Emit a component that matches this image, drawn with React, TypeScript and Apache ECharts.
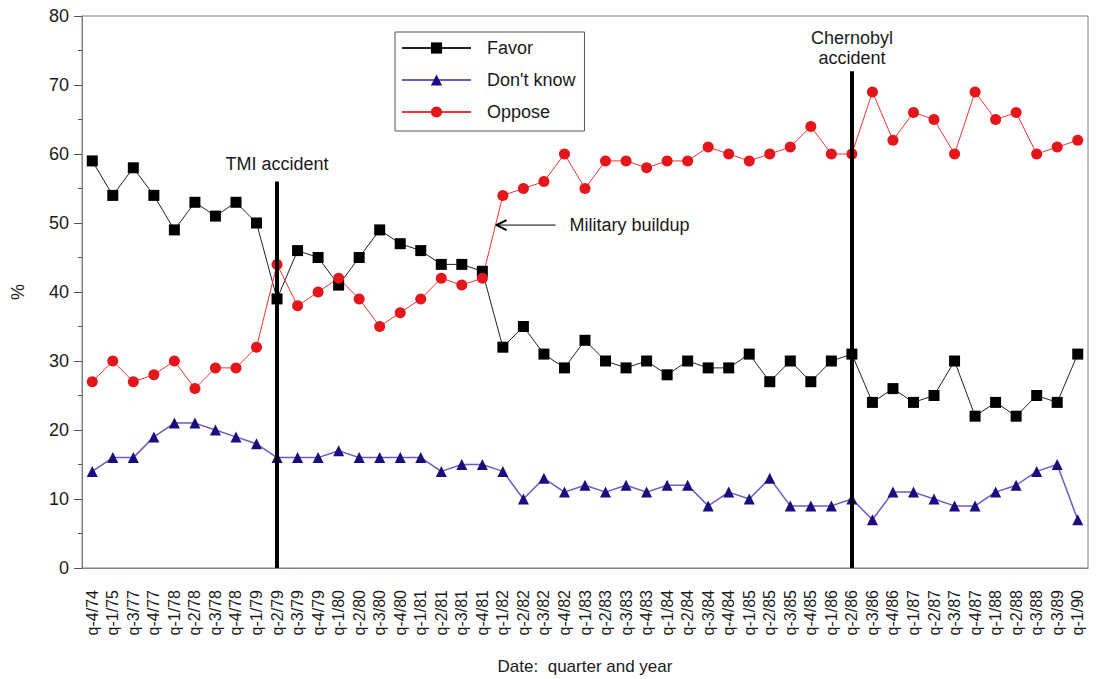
import { useEffect, useRef } from "react";
import * as echarts from "echarts";

const categories = [
  "q-4/74", "q-1/75", "q-3/77", "q-4/77", "q-1/78", "q-2/78", "q-3/78", "q-4/78", "q-1/79", "q-2/79",
  "q-3/79", "q-4/79", "q-1/80", "q-2/80", "q-3/80", "q-4/80", "q-1/81", "q-2/81", "q-3/81", "q-4/81",
  "q-1/82", "q-2/82", "q-3/82", "q-4/82", "q-1/83", "q-2/83", "q-3/83", "q-4/83", "q-1/84", "q-2/84",
  "q-3/84", "q-4/84", "q-1/85", "q-2/85", "q-3/85", "q-4/85", "q-1/86", "q-2/86", "q-3/86", "q-4/86",
  "q-1/87", "q-2/87", "q-3/87", "q-4/87", "q-1/88", "q-2/88", "q-3/88", "q-3/89", "q-1/90",
];

const favor = [
  59, 54, 58, 54, 49, 53, 51, 53, 50, 39,
  46, 45, 41, 45, 49, 47, 46, 44, 44, 43,
  32, 35, 31, 29, 33, 30, 29, 30, 28, 30,
  29, 29, 31, 27, 30, 27, 30, 31, 24, 26,
  24, 25, 30, 22, 24, 22, 25, 24, 31,
];

const dontKnow = [
  14, 16, 16, 19, 21, 21, 20, 19, 18, 16,
  16, 16, 17, 16, 16, 16, 16, 14, 15, 15,
  14, 10, 13, 11, 12, 11, 12, 11, 12, 12,
  9, 11, 10, 13, 9, 9, 9, 10, 7, 11,
  11, 10, 9, 9, 11, 12, 14, 15, 7,
];

const oppose = [
  27, 30, 27, 28, 30, 26, 29, 29, 32, 44,
  38, 40, 42, 39, 35, 37, 39, 42, 41, 42,
  54, 55, 56, 60, 55, 59, 59, 58, 59, 59,
  61, 60, 59, 60, 61, 64, 60, 60, 69, 62,
  66, 65, 60, 69, 65, 66, 60, 61, 62,
];

const events = [
  { at: "q-2/79", top: 56, label: "TMI accident", gap: 8 },
  { at: "q-2/86", top: 72, label: "Chernobyl\naccident", gap: 3 },
];

const arrowNote = { text: "Military buildup", from: "q-4/81", to: "q-1/82", value: 49.7 };

const FONT = "'Liberation Sans', Arial, Helvetica, sans-serif";
const TEXT = "#1a1a1a";

export default function App() {
  const ref = useRef<HTMLDivElement>(null);

  useEffect(() => {
    const chart = echarts.init(ref.current!, null, { renderer: "svg" });
    chart.setOption({
      animation: false,
      textStyle: { fontFamily: FONT },
      grid: {
        left: 82,
        right: 8,
        top: 16,
        bottom: 111,
        containLabel: false,
        outerBoundsMode: "none",
        show: true,
        borderColor: "#808080",
        borderWidth: 1,
        backgroundColor: "#fff",
      },
      legend: {
        data: ["Favor", "Don't know", "Oppose"],
        orient: "vertical",
        left: 395,
        top: 32,
        itemWidth: 69,
        itemHeight: 14,
        itemGap: 14,
        padding: [7, 9, 10, 6],
        borderColor: "#555",
        borderWidth: 1,
        backgroundColor: "#fff",
        selectedMode: false,
        textStyle: { fontSize: 18, color: TEXT, fontFamily: FONT, padding: [0, 0, 0, 11] },
      },
      xAxis: [
        {
          type: "category",
          data: categories,
          boundaryGap: true,
          name: "Date:  quarter and year",
          nameLocation: "middle",
          nameGap: 90,
          nameTextStyle: { fontSize: 17, color: TEXT, fontFamily: FONT },
          axisLine: { lineStyle: { color: "#808080", width: 1 } },
          axisTick: { alignWithLabel: true, length: 6, lineStyle: { color: "#555" } },
          axisLabel: { rotate: 90, interval: 0, fontSize: 16, margin: 22, color: TEXT, fontFamily: FONT },
          splitLine: { show: false },
        },
        {
          type: "category",
          data: categories,
          boundaryGap: true,
          position: "bottom",
          axisLine: { show: false },
          axisTick: { alignWithLabel: false, length: 3, interval: 0, lineStyle: { color: "#555" } },
          axisLabel: { show: false },
          splitLine: { show: false },
        },
      ],
      yAxis: {
        type: "value",
        min: 0,
        max: 80,
        interval: 10,
        name: "%",
        nameLocation: "middle",
        nameGap: 55,
        nameRotate: 90,
        nameTextStyle: { fontSize: 18, color: TEXT, fontFamily: FONT },
        axisLine: { show: true, lineStyle: { color: "#808080", width: 1 } },
        axisTick: { show: true, length: 8, lineStyle: { color: "#555" } },
        minorTick: { show: true, splitNumber: 2, length: 4, lineStyle: { color: "#555" } },
        axisLabel: { fontSize: 18, margin: 13, color: TEXT, fontFamily: FONT },
        splitLine: { show: false },
      },
      series: [
        {
          name: "Favor",
          type: "line",
          xAxisIndex: 0,
          data: favor,
          symbol: "rect",
          symbolSize: 11,
          itemStyle: { color: "#000" },
          lineStyle: { color: "#222", width: 1 },
          emphasis: { disabled: true },
          markLine: {
            silent: true,
            symbol: ["none", "none"],
            lineStyle: { color: "#000", width: 4, type: "solid" },
            label: {
              show: true,
              position: "end",
              formatter: "{b}",
              fontSize: 18,
              lineHeight: 20,
              color: TEXT,
              fontFamily: FONT,
              distance: 8,
            },
            emphasis: { disabled: true },
            data: events.map((e) => [
              { name: e.label, coord: [e.at, 0], label: { distance: e.gap } },
              { coord: [e.at, e.top] },
            ]),
          },
        },
        {
          name: "Don't know",
          type: "line",
          xAxisIndex: 0,
          data: dontKnow,
          symbol: "triangle",
          symbolSize: 11,
          itemStyle: { color: "#1b0d7d" },
          lineStyle: { color: "#6a5cc6", width: 1.5 },
          emphasis: { disabled: true },
        },
        {
          name: "Oppose",
          type: "line",
          xAxisIndex: 0,
          data: oppose,
          symbol: "circle",
          symbolSize: 11,
          itemStyle: { color: "#e3161b" },
          lineStyle: { color: "#ee3530", width: 1 },
          emphasis: { disabled: true },
        },
      ],
    });

    // "Military buildup" arrow, placed on the oppose line between two quarters
    const i0 = categories.indexOf(arrowNote.from);
    const i1 = categories.indexOf(arrowNote.to);
    const p0 = chart.convertToPixel({ xAxisIndex: 0, yAxisIndex: 0 }, [i0, oppose[i0]]) as number[];
    const p1 = chart.convertToPixel({ xAxisIndex: 0, yAxisIndex: 0 }, [i1, oppose[i1]]) as number[];
    const t = (arrowNote.value - oppose[i0]) / (oppose[i1] - oppose[i0]);
    const tipX = p0[0] + t * (p1[0] - p0[0]);
    const tipY = p0[1] + t * (p1[1] - p0[1]);
    const tailX = tipX + 60;
    chart.setOption({
      graphic: [
        {
          type: "line",
          shape: { x1: tipX, y1: tipY, x2: tailX, y2: tipY },
          style: { stroke: "#000", lineWidth: 1 },
          silent: true,
        },
        {
          type: "polyline",
          shape: { points: [[tipX + 11, tipY - 5], [tipX + 1, tipY], [tipX + 11, tipY + 5]] },
          style: { stroke: "#000", lineWidth: 2, fill: "none" },
          silent: true,
        },
        {
          type: "text",
          x: tailX + 14,
          y: tipY,
          style: {
            text: arrowNote.text,
            fontSize: 18,
            fontFamily: FONT,
            fill: TEXT,
            verticalAlign: "middle",
            align: "left",
          },
          silent: true,
        },
      ],
    });

    return () => chart.dispose();
  }, []);

  return (
    <div
      ref={ref}
      style={{ position: "fixed", left: 0, top: 0, width: 1096, height: 679, background: "#fff" }}
    />
  );
}
